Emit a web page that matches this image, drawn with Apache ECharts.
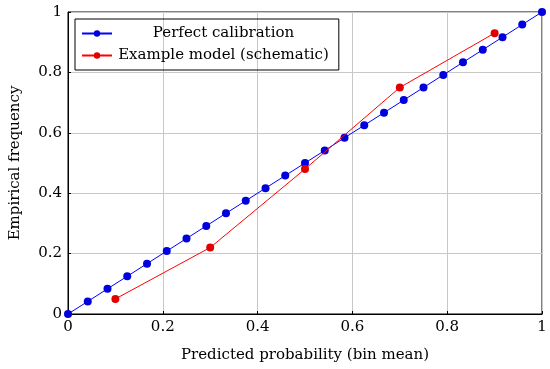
<!DOCTYPE html>
<html>
<head>
<meta charset="utf-8">
<script src="https://cdn.jsdelivr.net/npm/echarts@6/dist/echarts.min.js"></script>
<style>html,body{margin:0;padding:0;background:#fff}#c{width:550px;height:369px}</style>
</head>
<body>
<div id="c"></div>
<script>
var perfectX = [0, 0.0417, 0.0833, 0.125, 0.1667, 0.2083, 0.25, 0.2917, 0.3333, 0.375, 0.4167, 0.4583, 0.5, 0.5417, 0.5833, 0.625, 0.6667, 0.7083, 0.75, 0.7917, 0.8333, 0.875, 0.9167, 0.9583, 1];
var perfectY = [0, 0.0417, 0.0833, 0.125, 0.1667, 0.2083, 0.25, 0.2917, 0.3333, 0.375, 0.4167, 0.4583, 0.5, 0.5417, 0.5833, 0.625, 0.6667, 0.7083, 0.75, 0.7917, 0.8333, 0.875, 0.9167, 0.9583, 1];
var modelX = [0.1, 0.3, 0.5, 0.7, 0.9];
var modelY = [0.05, 0.22, 0.48, 0.75, 0.93];
var seriesNames = ['Perfect calibration', 'Example model (schematic)'];
var xTitle = 'Predicted probability (bin mean)';
var yTitle = 'Empirical frequency';

function pairs(xs, ys) { return xs.map(function (x, i) { return [x, ys[i]]; }); }
var FONT = 'DejaVu Serif';
var FS = 15;
var chart = echarts.init(document.getElementById('c'), null, {renderer: 'canvas'});
chart.setOption({
  animation: false,
  textStyle: {fontFamily: FONT},
  grid: {left: 66, right: 8, top: 12, bottom: 55, show: true, borderColor: '#000', borderWidth: 1, containLabel: false},
  legend: {
    orient: 'vertical', left: 75, top: 19,
    borderColor: '#000', borderWidth: 1, borderRadius: 0,
    padding: [7, 10, 7, 6], itemGap: 7, itemWidth: 30, itemHeight: 8,
    data: seriesNames,
    formatter: function (n) { return '{c|' + n + '}'; },
    textStyle: {fontFamily: FONT, fontSize: FS, color: '#000',
      rich: {c: {width: 213, align: 'center', fontFamily: FONT, fontSize: FS, color: '#000'}}}
  },
  xAxis: {
    type: 'value', min: 0, max: 1, interval: 0.2,
    name: xTitle, nameLocation: 'middle', nameGap: 34,
    nameTextStyle: {fontFamily: FONT, fontSize: FS, color: '#000'},
    axisLine: {show: true, lineStyle: {color: '#000', width: 1}},
    axisTick: {show: true, inside: true, length: 3, lineStyle: {color: '#000'}},
    axisLabel: {fontFamily: FONT, fontSize: FS, color: '#000', margin: 6},
    splitLine: {show: true, lineStyle: {color: '#c8c8c8', width: 1}}
  },
  yAxis: {
    type: 'value', min: 0, max: 1, interval: 0.2,
    name: yTitle, nameLocation: 'middle', nameGap: 45, nameRotate: 90,
    nameTextStyle: {fontFamily: FONT, fontSize: FS, color: '#000'},
    axisLine: {show: true, lineStyle: {color: '#000', width: 1}},
    axisTick: {show: true, inside: true, length: 3, lineStyle: {color: '#000'}},
    axisLabel: {fontFamily: FONT, fontSize: FS, color: '#000', margin: 6},
    splitLine: {show: true, lineStyle: {color: '#c8c8c8', width: 1}}
  },
  series: [
    {name: seriesNames[0], type: 'line', data: pairs(perfectX, perfectY), symbol: 'circle', symbolSize: 8,
      lineStyle: {color: '#0000ff', width: 1}, itemStyle: {color: '#0000dd'}, z: 3},
    {name: seriesNames[1], type: 'line', data: pairs(modelX, modelY), symbol: 'circle', symbolSize: 8,
      lineStyle: {color: '#ff0000', width: 1}, itemStyle: {color: '#e00000'}, z: 4}
  ]
});
</script>
</body>
</html>
